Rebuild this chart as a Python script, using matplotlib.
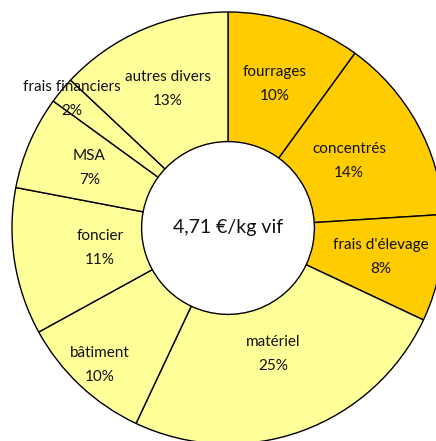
import numpy as np
import matplotlib
matplotlib.use("Agg")
import matplotlib.pyplot as plt

# ── Data ──────────────────────────────────────────────────────────────
categories = ["fourrages", "concentrés", "frais d'élevage", "matériel",
              "bâtiment", "foncier", "MSA", "frais financiers", "autres divers"]
shares = [10, 14, 8, 25, 10, 11, 7, 2, 13]
center_label = "4,71 €/kg vif"

# ── Style ─────────────────────────────────────────────────────────────
DARK = "#FFCC00"
LIGHT = "#FFFF99"
colors = [DARK, DARK, DARK] + [LIGHT] * 6
# radial position of each label (fraction of outer radius), mimics "best fit"
label_r = [0.70, 0.64, 0.72, 0.62, 0.87, 0.60, 0.70, 0.94, 0.70]

plt.rcParams["font.family"] = ["Lato", "DejaVu Sans"]

W, H, DPI = 436, 441, 100
fig = plt.figure(figsize=(W / DPI, H / DPI), dpi=DPI)
cx, cy, R = 228, 228, 216
ax = fig.add_axes([(cx - R) / W, (H - cy - R) / H, 2 * R / W, 2 * R / H])

ax.pie(shares, colors=colors, startangle=90, counterclock=False, radius=1,
       wedgeprops=dict(width=0.6, edgecolor="black", linewidth=1.0))
ax.set_xlim(-1, 1)
ax.set_ylim(-1, 1)
ax.axis("off")

total = sum(shares)
start = 90.0
for name, val, r in zip(categories, shares, label_r):
    span = 360.0 * val / total
    mid = np.deg2rad(start - span / 2)
    start -= span
    ax.text(r * np.cos(mid), r * np.sin(mid), f"{name}\n{round(100 * val / total)}%",
            ha="center", va="center", fontsize=11, color="#111111",
            linespacing=1.9)

ax.text(0, 0, center_label, ha="center", va="center", fontsize=14, color="#111111")

fig.savefig("out.png", dpi=DPI, facecolor="white")
